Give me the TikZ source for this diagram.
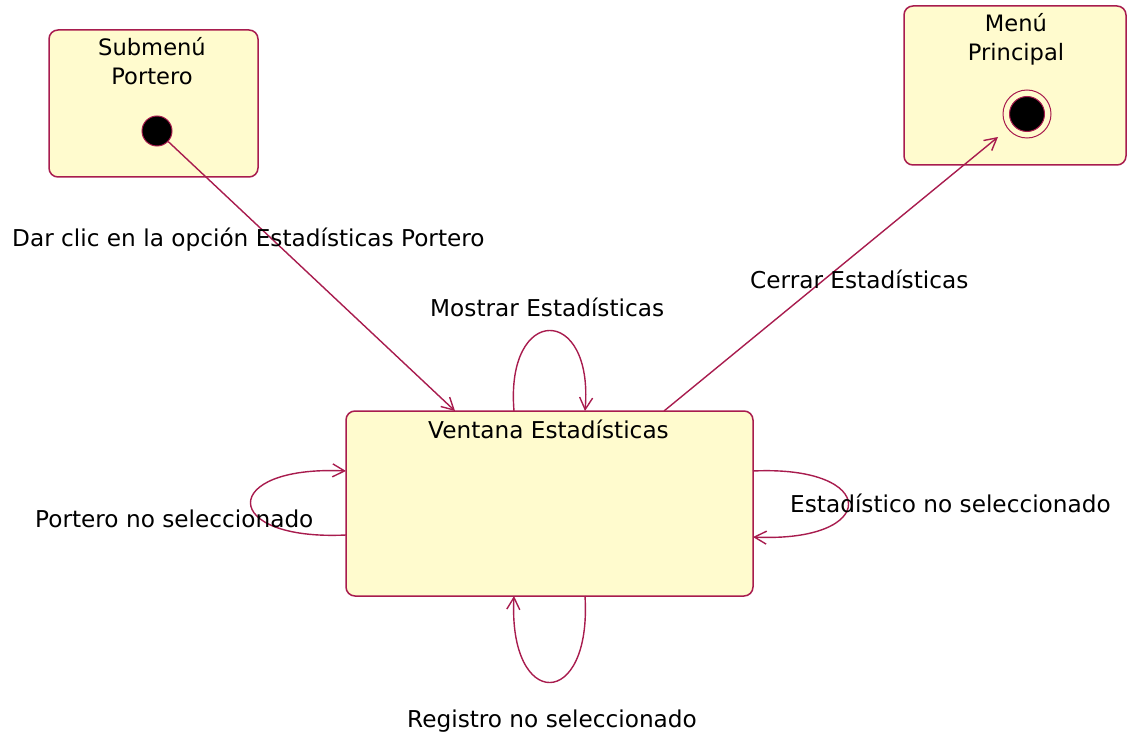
\documentclass[tikz,border=0pt]{standalone}
\usepackage{fontspec}
\setmainfont{DejaVu Sans}
\usetikzlibrary{arrows.meta}
\definecolor{edgecol}{RGB}{168,28,78}
\definecolor{statefill}{RGB}{255,251,206}
\tikzset{
  statebox/.style={draw=edgecol, fill=statefill, line width=1.5pt, rounded corners=9pt},
  conn/.style={draw=edgecol, line width=1.4pt, -{Straight Barb[length=12pt,width=13pt,line width=1.4pt]}},
  lbl/.style={anchor=base west, inner sep=0pt, font=\fontsize{23.2}{28}\selectfont},
  ttl/.style={anchor=north, inner sep=0pt, align=center, font=\fontsize{22.6}{29}\selectfont},
}
\begin{document}
\begin{tikzpicture}[x=1pt,y=-1pt]
\useasboundingbox (0,0) rectangle (1128,733);
% states
\draw[statebox] (49,30) rectangle (258,177);
\node[ttl] (t1) at (152,37) {Submenú\\Portero};
\node[circle, fill=black, draw=edgecol, line width=1pt, minimum size=30pt, inner sep=0pt] (start) at (157,131) {};

\draw[statebox] (904,6) rectangle (1126,165);
\node[ttl] (t2) at (1016,13) {Menú\\Principal};
\node[circle, draw=edgecol, fill=statefill, line width=1pt, minimum size=48pt, inner sep=0pt] (endo) at (1027,114) {};
\node[circle, fill=black, draw=edgecol, line width=1pt, minimum size=35pt, inner sep=0pt] (endi) at (1027,114) {};

\node[statebox, minimum width=407pt, minimum height=185pt, inner sep=0pt] (vent) at (549.5,503.5) {};
\node[lbl] (vt) at (428,438.5) {Ventana Estadísticas};

% coordinates
\coordinate (a1) at (455,411);
\coordinate (c0) at (664,411);
\coordinate (c1) at (998,137);
\coordinate (m0) at (514,411);
\coordinate (m1) at (585,411);
\coordinate (r0) at (585,596);
\coordinate (r1) at (514,596);
\coordinate (p0) at (346,535);
\coordinate (p1) at (346,471);
\coordinate (e0) at (753,471);
\coordinate (e1) at (753,537);

% connectors
\draw[conn] (start) -- (a1);
\draw[conn] (c0) -- (c1);
\draw[conn] (m0) .. controls (505,304) and (594,304) .. (m1);
\draw[conn] (r0) .. controls (592,711) and (508,711) .. (r1);
\draw[conn] (p0) .. controls (219,541) and (219,465) .. (p1);
\draw[conn] (e0) .. controls (880,465) and (880,543) .. (e1);

% labels
\node[lbl] (l1) at (12,246) {Dar clic en la opción Estadísticas Portero};
\node[lbl] (l2) at (750,288) {Cerrar Estadísticas};
\node[lbl] (l3) at (430,316) {Mostrar Estadísticas};
\node[lbl] (l4) at (35,527) {Portero no seleccionado};
\node[lbl] (l5) at (790,512) {Estadístico no seleccionado};
\node[lbl] (l6) at (407,727) {Registro no seleccionado};
\end{tikzpicture}
\end{document}
